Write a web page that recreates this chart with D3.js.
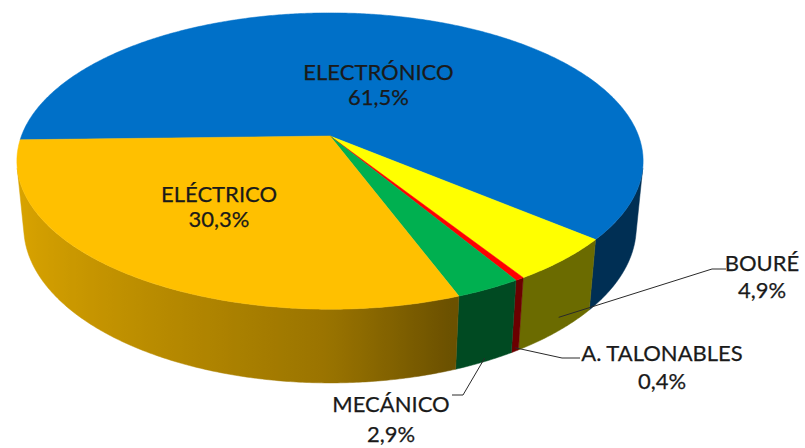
<!DOCTYPE html>
<html><head><meta charset="utf-8">
<script src="https://cdn.jsdelivr.net/npm/d3@7"></script>
<style>body{margin:0;background:#fff}svg{display:block}text{font-family:Lato,"Open Sans",sans-serif;fill:#1a1a1a;stroke:#1a1a1a;stroke-width:0.25}</style>
</head><body>
<svg id="c" width="805" height="448"></svg>
<script>
// ---- data ----
const categories = ["ELECTRÓNICO", "BOURÉ", "A. TALONABLES", "MECÁNICO", "ELÉCTRICO"];
const values = [61.5, 4.9, 0.4, 2.9, 30.3];
const colors = ["#0070C8", "#FFFF00", "#FF0000", "#00B050", "#FFC000"];

// ---- layout (not data) ----
const layout = [
  {inside: true, r: 0.5, dx: 1.5, dy: 11},
  {inside: false, z: 0.8, elbow: [712, 269], end: [726, 269], tx: 762, ty: 271, lh: 27},
  {inside: false, z: 0.95, elbow: [562, 358], end: [580, 358], tx: 662, ty: 361, lh: 28},
  {inside: false, z: 0.95, elbow: [463, 395], end: [452, 395], tx: 391, ty: 412, lh: 30},
  {inside: true, r: 0.6, dx: 2, dy: -8}
];

const fmt = d3.formatLocale({decimal: ",", thousands: ".", grouping: [3], currency: ["", "€"]}).format(".1f");

const svg = d3.select("#c");
const defs = svg.append("defs");
const cam = {cx: 330, cy: 136, f: 1614, D: 5.23, alpha: 27.8 * Math.PI / 180, h: 0.244};
const sa = Math.sin(cam.alpha), ca = Math.cos(cam.alpha);
function proj(theta, z, r) {
  r = r === undefined ? 1 : r;
  const X = r * Math.sin(theta), Y = -r * Math.cos(theta);
  const d = cam.D - Y * ca - z * sa;
  return [cam.cx + cam.f * X / d, cam.cy + cam.f * (Y * sa - z * ca) / d];
}
const start = 268.5 * Math.PI / 180;
const pie = d3.pie().sort(null).value(d => d).startAngle(start).endAngle(start + 2 * Math.PI);
const arcs = pie(values);

function shadeFactor(theta) {
  const X = Math.sin(theta);
  let k = X < 0 ? 0.6 - 0.26 * X : 0.6 - 0.55 * X;
  return Math.max(0.42, Math.min(0.9, k));
}
function shade(col, k) {
  const c = d3.rgb(col);
  return d3.rgb(c.r * k, c.g * k, c.b * k).formatHex();
}
function frontFacing(theta) { return -1 - cam.D * ca * Math.cos(theta) > 0; }
// visible front range
const limit = Math.acos(-1 / (cam.D * ca));   // ~102°
const visLo = limit, visHi = 2 * Math.PI - limit;

function norm(t) { t = t % (2 * Math.PI); return t < 0 ? t + 2 * Math.PI : t; }

// ---- side walls ----
const gSide = svg.append("g");
const step = 0.5 * Math.PI / 180;
arcs.forEach((a, i) => {
  // clip slice range to visible front range (angles normalised to [0,2pi))
  let a0 = a.startAngle, a1 = a.endAngle;
  // slices crossing 2pi: unwrap relative to visible window
  const segs = [];
  for (const off of [0, -2 * Math.PI, 2 * Math.PI]) {
    const lo = Math.max(a0 + off, visLo), hi = Math.min(a1 + off, visHi);
    if (hi > lo) segs.push([lo, hi]);
  }
  segs.forEach(([lo, hi], si) => {
    const n = Math.max(2, Math.ceil((hi - lo) / step));
    const top = [], bot = [];
    for (let j = 0; j <= n; j++) {
      const t = lo + (hi - lo) * j / n;
      top.push(proj(t, 0)); bot.push(proj(t, -cam.h));
    }
    const x0 = Math.min(top[0][0], top[n][0]), x1 = Math.max(top[0][0], top[n][0]);
    const gid = "g" + i + "_" + si;
    const gr = defs.append("linearGradient").attr("id", gid)
      .attr("gradientUnits", "userSpaceOnUse")
      .attr("x1", x0).attr("y1", 0).attr("x2", x1 + 0.01).attr("y2", 0);
    const stops = [];
    for (let j = 0; j <= n; j += 2) {
      const t = lo + (hi - lo) * j / n;
      stops.push({x: top[j][0], c: shade(colors[i], shadeFactor(t))});
    }
    stops.sort((p, q) => p.x - q.x);
    stops.forEach(s => gr.append("stop")
      .attr("offset", x1 > x0 ? Math.max(0, Math.min(1, (s.x - x0) / (x1 - x0))) : 0)
      .attr("stop-color", s.c));
    const p = d3.path();
    p.moveTo(top[0][0], top[0][1]);
    top.slice(1).forEach(q => p.lineTo(q[0], q[1]));
    bot.slice().reverse().forEach(q => p.lineTo(q[0], q[1]));
    p.closePath();
    gSide.append("path").attr("d", p.toString()).attr("fill", "url(#" + gid + ")")
      .attr("stroke", "url(#" + gid + ")").attr("stroke-width", 0.5);
  });
});

// ---- top faces ----
const gTop = svg.append("g");
arcs.forEach((a, i) => {
  const p = d3.path();
  const c0 = proj(0, 0, 0);
  p.moveTo(c0[0], c0[1]);
  const n = Math.max(2, Math.ceil((a.endAngle - a.startAngle) / step));
  for (let j = 0; j <= n; j++) {
    const t = a.startAngle + (a.endAngle - a.startAngle) * j / n;
    const q = proj(t, 0);
    p.lineTo(q[0], q[1]);
  }
  p.closePath();
  gTop.append("path").attr("d", p.toString()).attr("fill", colors[i]).attr("stroke", colors[i]).attr("stroke-width", 0.5);
});

// ---- labels ----
const gLab = svg.append("g").attr("font-size", 22);
arcs.forEach((a, i) => {
  const L = layout[i];
  const mid = (a.startAngle + a.endAngle) / 2;
  const pct = fmt(values[i]) + "%";
  if (L.inside) {
    const q = proj(mid, 0, L.r);
    const x = q[0] + L.dx, y = q[1] + L.dy;
    const t = gLab.append("text").attr("text-anchor", "middle");
    t.append("tspan").attr("x", x).attr("y", y - 4).text(categories[i]);
    t.append("tspan").attr("x", x).attr("y", y + 21).text(pct);
  } else {
    const s0 = proj(mid, -cam.h * L.z);
    gLab.append("polyline")
      .attr("points", [s0, L.elbow, L.end].map(p => p.join(",")).join(" "))
      .attr("fill", "none").attr("stroke", "#2a2a2a").attr("stroke-width", 1);
    const t = gLab.append("text").attr("text-anchor", "middle");
    t.append("tspan").attr("x", L.tx).attr("y", L.ty).text(categories[i]);
    t.append("tspan").attr("x", L.tx).attr("y", L.ty + L.lh).text(pct);
  }
});
</script>
</body></html>
